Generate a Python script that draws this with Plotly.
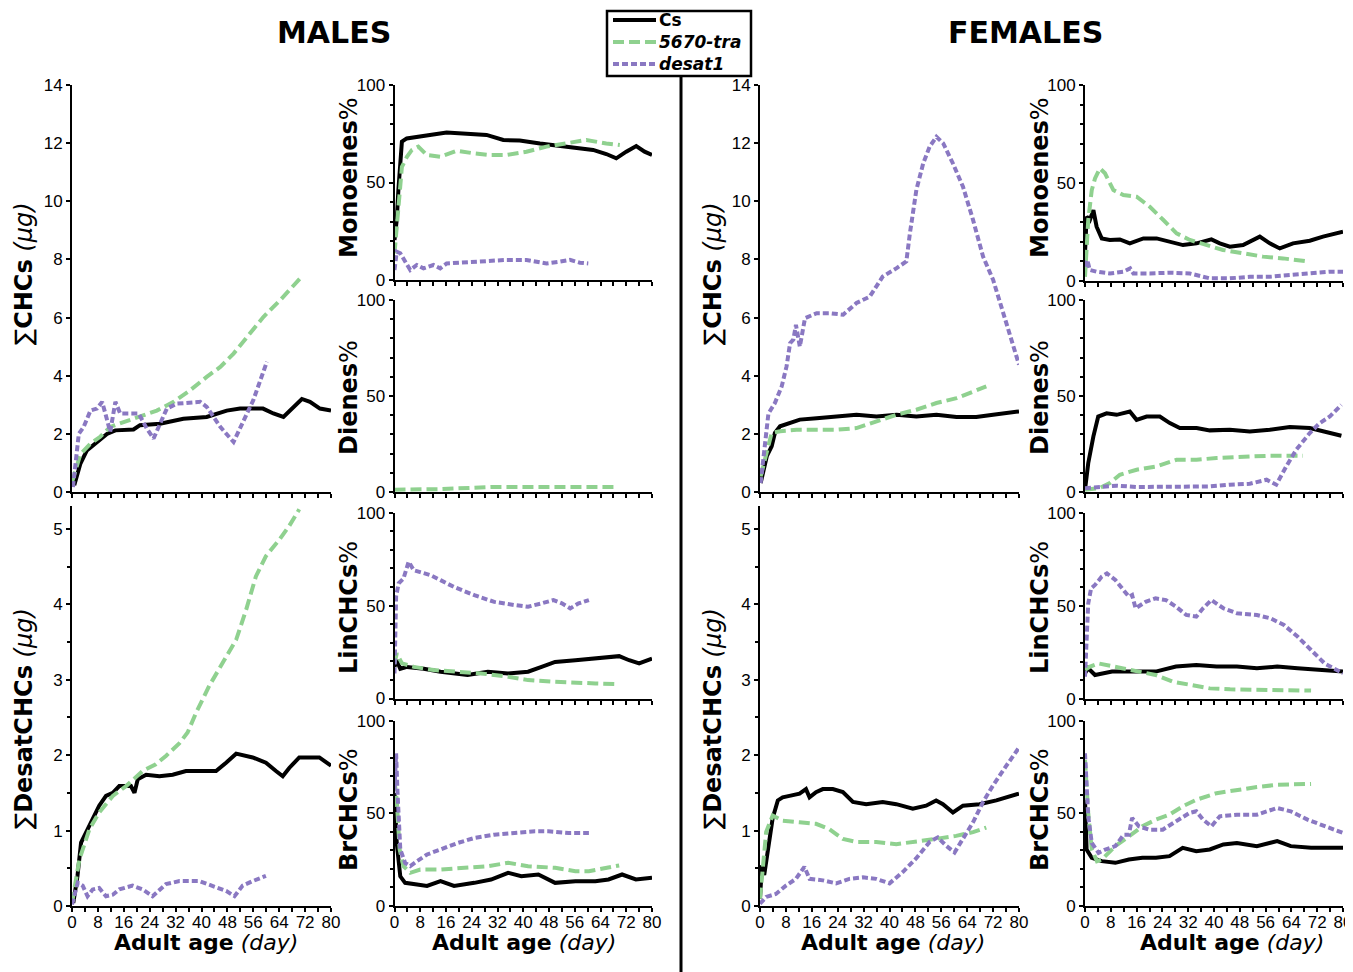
import plotly.graph_objects as go

# ---------------- DATA (day, value) ----------------
# MALES  ΣCHCs (µg)
M_CHC_CS = [(0.7,0.23),(2.6,0.98),(4.6,1.43),(8.7,1.78),(10.8,2.0),(13.4,2.12),(19,2.15),(21,2.3),(27.2,2.35),(34.4,2.52),(41.6,2.58),(47.8,2.8),(51.9,2.87),(59,2.87),(62.2,2.7),(65.3,2.58),(67.4,2.8),(71,3.2),(73.5,3.1),(76.6,2.87),(80,2.8)]
M_CHC_TRA = [(0,0.34),(2.6,1.3),(5.7,1.66),(8.7,1.9),(11.8,2.24),(15.9,2.4),(21,2.58),(26.2,2.8),(31.4,3.1),(36.5,3.5),(41.6,3.96),(45.8,4.3),(49.9,4.76),(54,5.34),(59.1,6.02),(64.3,6.6),(70.4,7.34)]
M_CHC_DES = [(0.3,0.17),(2.1,2.0),(3.6,2.24),(5.7,2.8),(7.7,2.87),(9.3,3.1),(10.3,2.7),(11.8,2.07),(13.4,3.1),(14.9,2.7),(17,2.7),(20.6,2.7),(23.1,2.18),(25.2,1.84),(27.2,2.35),(29.3,2.87),(32.4,3.04),(39.6,3.1),(41.6,2.93),(45.8,2.24),(49.9,1.72),(53,2.47),(56,3.16),(60.2,4.48)]
# MALES  ΣDesatCHCs (µg)
M_DES_CS = [(0.4,0.04),(1.7,0.4),(2.8,0.84),(4.3,0.97),(6.4,1.15),(8.4,1.33),(10.5,1.46),(12.6,1.5),(14.6,1.59),(18.2,1.59),(19.3,1.5),(20.3,1.68),(22.9,1.74),(27,1.72),(31.1,1.74),(35.2,1.79),(39.3,1.79),(44.5,1.79),(47.6,1.9),(50.7,2.02),(55.8,1.97),(59.9,1.9),(63,1.79),(65.1,1.72),(67.1,1.83),(70.2,1.97),(76.4,1.97),(80,1.86)]
M_DES_TRA = [(0,0.04),(2.3,0.62),(5.4,1.02),(8.4,1.24),(12.6,1.46),(16.7,1.59),(21.8,1.79),(25.9,1.88),(29,1.99),(33.2,2.16),(35.7,2.3),(38.3,2.56),(42.4,2.92),(46.5,3.22),(50.7,3.53),(53.8,3.93),(56.8,4.37),(59.9,4.64),(64.1,4.86),(67.1,5.04),(70.2,5.26)]
M_DES_DES = [(0,0.02),(1.8,0.31),(3.3,0.27),(4.8,0.13),(6.4,0.22),(8.4,0.24),(10.5,0.13),(12.6,0.15),(14.6,0.22),(18.7,0.27),(21.8,0.22),(24.9,0.13),(29,0.29),(33.2,0.33),(39.3,0.33),(43.5,0.27),(47.6,0.2),(50.2,0.13),(52.7,0.27),(55.8,0.33),(59.9,0.4)]
# MALES  Monoenes %
M_MON_CS = [(0,20.5),(0.7,30.8),(1.2,46),(1.8,60),(2.3,71),(3.8,72.6),(6.9,73.5),(11,74.4),(16.2,75.6),(24.5,74.9),(28.6,74.4),(33.8,71.8),(38.9,71.5),(45.2,70),(53.4,68.4),(61.7,66.7),(65.8,64.6),(68.9,62.4),(72,65.8),(75.1,68.7),(77.7,65.8),(80,64.1)]
M_MON_TRA = [(0,13.7),(0.7,25.6),(1.6,46),(2.3,58),(3.8,63),(5.4,66.7),(7.4,68.4),(10,64.1),(14.2,63.2),(19.3,66.3),(24.5,65),(29.7,64.1),(34.8,64.1),(41,65.8),(47.2,68.4),(53.4,70),(59.6,71.8),(65.8,70),(70,69.2)]
M_MON_DES = [(0,5.1),(0.7,14.5),(1.8,13.7),(3.3,9.4),(4.9,5.1),(6.9,7.7),(9,6),(12.1,7.7),(14.2,6),(16.2,8.5),(24.5,9.4),(34.8,10.3),(41,10.3),(47.2,8.5),(51.4,9.4),(54.5,10.3),(57.6,8.9),(60.2,8.5)]
# MALES  Dienes %
M_DIE_TRA = [(0,1.2),(14,1.5),(30,2.6),(45,2.6),(69,2.6)]
# MALES  LinCHCs %
M_LIN_CS = [(0,17),(0.7,20.6),(1.8,16),(3.9,17),(9.1,16),(14.3,14.4),(22.7,12.6),(29,14.4),(35.3,13.5),(41.5,14.4),(45.7,17),(49.9,19.7),(56.2,20.6),(62.4,21.5),(69.8,22.8),(72.9,20.6),(76,18.9),(80,21.5)]
M_LIN_TRA = [(0,18.9),(0.7,24.2),(2.3,18.9),(6,17),(12.2,15.3),(18.5,14.4),(26.9,13.5),(35.3,11.7),(41.5,9.9),(49.9,9),(56.2,8.4),(62.4,8.1),(69.8,7.7)]
M_LIN_DES = [(0,13.5),(0.2,35),(0.5,55),(1.3,62),(2.8,64.6),(4.4,73.6),(6,69),(8,68),(11.2,66.4),(14.3,63.7),(18.5,60),(24.8,55.6),(31,52),(37.3,50.3),(41.5,49.4),(45.7,51.2),(49.4,53),(52,51.2),(54.6,48.5),(57.2,51.2),(60.4,53)]
# MALES  BrCHCs %
M_BR_CS = [(0,61),(0.7,34),(1.8,16),(3.3,12.5),(7,11.6),(10.1,10.8),(14.3,13.4),(18.5,10.8),(24.8,12.5),(30,14.3),(35.3,17.9),(39.4,16.1),(44.7,17),(49.9,12.5),(56.2,13.4),(62.4,13.4),(66.5,14.3),(70.7,17),(75,14.3),(80,15.2)]
M_BR_TRA = [(0,68),(0.7,57),(1.6,30.5),(2.8,21.5),(4.9,17.9),(8,19.7),(14.3,19.7),(22.7,20.6),(29,21.5),(35.3,23.3),(41.5,21.5),(49.9,20.6),(56.2,18.8),(60.4,18.8),(65.6,20.6),(69.8,21.9)]
M_BR_DES = [(0,62.7),(0.5,82.4),(0.9,62.7),(1.8,30.5),(3.3,23.3),(4.9,21.5),(7,24.2),(10.1,27.8),(14.3,30.5),(19.6,34),(24.8,36.7),(31,38.5),(37.3,39.4),(43.6,40.3),(47.8,40.3),(54.1,39.4),(60.4,39.4)]

# FEMALES ΣCHCs (µg)
F_CHC_CS = [(0.2,0.31),(2.1,1.23),(3.6,1.57),(4.6,2.03),(6.2,2.26),(9.3,2.37),(12.3,2.49),(17.5,2.54),(23.7,2.6),(29.8,2.66),(36,2.6),(42.2,2.66),(48.3,2.6),(54.5,2.66),(60.7,2.58),(66.8,2.58),(72,2.66),(76.1,2.72),(80,2.77)]
F_CHC_TRA = [(0.2,0.54),(2.1,1.45),(3.6,2.03),(6.2,2.09),(11.3,2.14),(17.5,2.14),(23.7,2.14),(29.8,2.2),(36,2.43),(42.2,2.66),(48.3,2.83),(54.5,3.06),(60.7,3.23),(65.8,3.46),(69.9,3.63)]
F_CHC_DES = [(0.2,0.31),(1.5,1.57),(2.6,2.7),(4.6,3.06),(6.7,3.63),(8.2,4.32),(9.3,5.12),(10.3,5.24),(11.1,5.75),(12.3,5.0),(13.9,5.98),(17.5,6.15),(21.6,6.15),(25.7,6.1),(29.8,6.5),(33.9,6.72),(37.9,7.41),(42.2,7.7),(45.2,7.93),(46.3,8.9),(48.3,10.39),(50.4,11.3),(52.4,11.88),(54.5,12.22),(56.6,11.99),(59.6,11.3),(62.7,10.5),(65.8,9.36),(68.9,8.1),(72,7.3),(75.1,6.15),(78.1,5.12),(80,4.38)]
# FEMALES ΣDesatCHCs (µg)
F_DES_CS = [(0,0.1),(0.6,0.54),(1.3,0.41),(2.4,0.76),(3.9,1.16),(5.5,1.4),(7,1.44),(9.1,1.46),(12.2,1.49),(14.2,1.55),(15.3,1.44),(17.3,1.51),(19.4,1.55),(22.5,1.55),(25.6,1.51),(28.7,1.38),(32.8,1.35),(37.9,1.38),(42.1,1.35),(47.2,1.29),(51.3,1.33),(54.4,1.4),(56.5,1.35),(59.6,1.24),(62.7,1.33),(67.8,1.35),(73,1.4),(80,1.49)]
F_DES_TRA = [(0,0.1),(0.8,0.54),(1.9,0.98),(3.9,1.2),(7,1.13),(12.2,1.11),(17.3,1.09),(21.4,1.02),(25.6,0.89),(29.7,0.85),(35.9,0.85),(42.1,0.82),(48.2,0.85),(54.4,0.89),(60.6,0.93),(65.8,0.98),(69.9,1.04)]
F_DES_DES = [(0,0.03),(1.9,0.12),(4.9,0.16),(8,0.27),(11.1,0.36),(13.7,0.52),(15.3,0.36),(19.4,0.34),(23.5,0.3),(27.6,0.36),(31.8,0.38),(35.9,0.36),(40,0.3),(44.1,0.45),(48.2,0.63),(52.4,0.85),(54.9,0.91),(57.5,0.8),(60.1,0.71),(62.7,0.89),(65.8,1.11),(68.9,1.38),(72,1.6),(76.1,1.86),(80,2.1)]
# FEMALES Monoenes %
F_MON_CS = [(0,14),(0.5,32.7),(1.5,31),(2.6,36),(3.6,27.6),(5.2,21.6),(7.7,20.8),(10.8,21.1),(13.9,19.1),(18.1,21.6),(22.2,21.6),(26.3,19.9),(30.4,18.2),(34.6,19.1),(39.2,21.1),(41.8,19.1),(44.9,17.4),(49,18.2),(54.2,22.5),(57.3,19.1),(60.4,16.5),(64.5,19.1),(69.7,20.4),(73.8,22.5),(76.9,23.9),(80,25)]
F_MON_TRA = [(0,2),(1,31),(2.1,46.3),(3.1,52.3),(4.6,57.4),(6.2,54.9),(8.8,46.3),(11.9,43.8),(16,42.9),(20.1,37.8),(24.3,31),(28.4,24.2),(32.5,20.8),(37.7,18.2),(42.8,15.7),(49,14),(55.2,12.3),(61.4,11.4),(69.7,9.7)]
F_MON_DES = [(0,7.2),(0.7,10.6),(1.5,5.5),(3.6,4.6),(7.7,3.7),(11.9,4.6),(14,6.3),(15,3.7),(20.1,3.7),(26.3,4.1),(32.5,3.7),(38.7,1.2),(44.9,1.2),(51.1,2),(57.3,2),(63.5,2.9),(69.7,3.7),(75.9,4.6),(80,4.6)]
# FEMALES Dienes %
F_DIE_CS = [(0,1.2),(1,15),(2.6,29),(4.1,39.3),(6.7,41),(9.8,40.2),(13.9,41.9),(16,37.6),(19.1,39.3),(23.2,39.3),(26.3,35.9),(29.4,33.3),(34.6,33.3),(38.7,32.1),(44.9,32.4),(51.1,31.5),(57.3,32.4),(63.5,33.8),(69.7,33.3),(73.8,31.5),(79.5,29.3)]
F_DIE_TRA = [(0,1.2),(4.6,2.1),(7.7,4.7),(10.8,9),(16,11.6),(22.2,13.3),(28.4,16.8),(34.6,16.8),(40.8,17.7),(49,18.5),(57.3,18.9),(67.6,18.9)]
F_DIE_DES = [(0,2),(3.6,2.6),(9.8,3.3),(16,2.6),(24.3,2.6),(32.5,2.6),(38.7,2.9),(44.9,3.8),(51.1,4.3),(56.3,6.4),(59.3,3.8),(62.4,13.3),(65.5,22),(69.7,30.7),(72.8,35.9),(75.9,39.3),(79.5,45.4)]
# FEMALES LinCHCs %
F_LIN_CS = [(0,13.8),(1,16.5),(3.1,12.9),(5.2,13.8),(8.4,14.7),(11.5,14.7),(16.7,14.7),(21.9,14.7),(28.2,17.4),(34.5,18.2),(40.8,17.4),(47.1,17.4),(53.3,16.5),(59.6,17.4),(65.9,16.5),(72.2,15.6),(80,14.7)]
F_LIN_TRA = [(0,15.6),(1.6,17.4),(4.2,19.1),(7.3,18.2),(11.5,16.5),(16.7,14.7),(21.9,12.9),(27.2,9.3),(32.4,7.5),(38.7,5.7),(45,5.2),(53.3,4.8),(61.7,4.5),(70.1,4.5)]
F_LIN_DES = [(0,12),(0.5,35.2),(1,51.3),(1.9,59.4),(3.1,61.2),(5.2,65.7),(6.8,67.4),(9.4,63.9),(12.6,56.7),(13.6,54.9),(14.6,55.8),(15.7,48.7),(18.8,52.2),(21.9,54),(25.1,53.1),(28.2,49.6),(31.4,45.1),(34.5,44.2),(36.6,48.7),(39.2,53.1),(42.9,48.7),(47.1,46),(53.3,45.1),(57.5,43.3),(61.7,39.7),(65.9,33.5),(70.1,26.3),(74.3,19.1),(80,13.8)]
# FEMALES BrCHCs %
F_BR_CS = [(0,57.3),(0.5,30.5),(2.1,26),(5.2,24.2),(9.4,23.3),(13.6,25.1),(17.8,26),(22,26),(26.2,26.9),(30.3,31.4),(34.5,29.6),(38.7,30.5),(42.9,33.2),(47.1,34),(53.3,32.3),(59.6,35),(63.8,32.3),(70.1,31.4),(80,31.4)]
F_BR_TRA = [(0,78.9),(1,50.2),(2.1,30.5),(3.7,24.2),(5.2,25.1),(9.4,32.3),(13.6,37.6),(17.8,43),(22,46.6),(26.2,49.3),(30.3,53.8),(34.5,57.3),(40.8,60.9),(47.1,62.7),(53.3,64.2),(59.6,65.4),(65.9,65.9),(70.1,65.9)]
F_BR_DES = [(0,82.4),(0.2,75.3),(1,48.4),(2.1,34),(4.2,28.7),(6.3,30.5),(9.4,32.3),(12,38.5),(13.6,38.5),(14.6,47.5),(16.7,43),(19.9,41.2),(24.1,41.2),(28.2,45.7),(32.4,50.2),(34.5,51.1),(36.6,46.6),(39.2,43),(41.8,48.4),(47.1,49.3),(53.3,49.3),(59.6,52.9),(63.8,51.1),(69,46.6),(74.3,43),(80,39.4)]

GENOTYPES = ["Cs", "5670-tra", "desat1"]
LEGEND_NAMES = ["<b>Cs</b>", "<b><i>5670-tra</i></b>", "<b><i>desat1</i></b>"]
X_TICKS = [0, 8, 16, 24, 32, 40, 48, 56, 64, 72, 80]

# ---------------- STYLE / LAYOUT ----------------
# the page body adds an 8px offset; the figure is sized so that it ends at the window edge
OX, OY = 8, 8
W, H = 1345, 964
TICK_FONT = "Liberation Sans"
TEXT_FONT = "DejaVu Sans"
STYLES = {
    "Cs": dict(color="black", width=4, dash="solid"),
    "5670-tra": dict(color="#8fd18f", width=4, dash="11px,5px"),
    "desat1": dict(color="#8a78c2", width=4, dash="6px,3px"),
}

def fx(px):
    return (px - OX) / W

def fy(py):
    return 1 - (py - OY) / H

def px_x(a, b):
    return [fx(a), fx(b)]

def px_y(top, bottom):
    return [fy(bottom), fy(top)]

# key, series, x-domain px, y-domain px, y-range, y-major, y-minor, show x labels
panels = [
    ("m_chc", [M_CHC_CS, M_CHC_TRA, M_CHC_DES], (72, 331), (85, 492), [0, 14], 2, None, False),
    ("m_des", [M_DES_CS, M_DES_TRA, M_DES_DES], (72, 331), (506.3, 906), [0, 5.3], 1, 0.5, True),
    ("m_mon", [M_MON_CS, M_MON_TRA, M_MON_DES], (394.5, 652), (85, 280), [0, 100], 50, 10, False),
    ("m_die", [None, M_DIE_TRA, None], (394.5, 652), (300, 492), [0, 100], 50, 10, False),
    ("m_lin", [M_LIN_CS, M_LIN_TRA, M_LIN_DES], (394.5, 652), (512.7, 698.5), [0, 100], 50, 10, False),
    ("m_br", [M_BR_CS, M_BR_TRA, M_BR_DES], (394.5, 652), (720.7, 906), [0, 100], 50, 10, True),
    ("f_chc", [F_CHC_CS, F_CHC_TRA, F_CHC_DES], (760, 1019), (85, 492), [0, 14], 2, None, False),
    ("f_des", [F_DES_CS, F_DES_TRA, F_DES_DES], (760, 1019), (506.3, 906), [0, 5.3], 1, 0.5, True),
    ("f_mon", [F_MON_CS, F_MON_TRA, F_MON_DES], (1085, 1343), (85, 280.7), [0, 100], 50, 10, False),
    ("f_die", [F_DIE_CS, F_DIE_TRA, F_DIE_DES], (1085, 1343), (300, 492), [0, 100], 50, 10, False),
    ("f_lin", [F_LIN_CS, F_LIN_TRA, F_LIN_DES], (1085, 1343), (512.7, 699), [0, 100], 50, 10, False),
    ("f_br", [F_BR_CS, F_BR_TRA, F_BR_DES], (1085, 1343), (720.7, 906), [0, 100], 50, 10, True),
]

fig = go.Figure()
layout = {}
for i, (key, series, xd, yd, yr, ymaj, ymin, bottom) in enumerate(panels):
    n = i + 1
    xa = "x" if n == 1 else f"x{n}"
    ya = "y" if n == 1 else f"y{n}"
    for g, data in zip(GENOTYPES, series):
        if data is None:
            continue
        xs, ys = zip(*data)
        fig.add_trace(go.Scatter(
            x=list(xs), y=list(ys), mode="lines", name=g,
            line=STYLES[g], xaxis=xa, yaxis=ya, showlegend=False,
        ))
    axis_common = dict(showline=True, linecolor="black", linewidth=2, ticks="outside",
                       tickcolor="black", tickwidth=1.5, ticklen=4, showgrid=False,
                       zeroline=False, automargin=False,
                       tickfont=dict(family=TICK_FONT, size=17, color="black"))
    layout["xaxis" if n == 1 else f"xaxis{n}"] = dict(
        domain=px_x(*xd), range=[0, 80], anchor=ya, tickmode="array",
        tickvals=X_TICKS, showticklabels=bottom, ticklabelstandoff=-4,
        minor=dict(dtick=4, tick0=0, ticks="outside", ticklen=4, tickcolor="black", tickwidth=1.5),
        **axis_common)
    ydict = dict(domain=px_y(*yd), range=yr, anchor=xa, dtick=ymaj, tick0=0, **axis_common)
    if ymin:
        ydict["minor"] = dict(dtick=ymin, tick0=0, ticks="outside", ticklen=3, tickcolor="black", tickwidth=1.5)
    layout["yaxis" if n == 1 else f"yaxis{n}"] = ydict

# ---------------- TEXT ----------------
ann = []

def add_text(text, xpx, ypx, size=21, angle=0, xanchor="center", family=TEXT_FONT):
    ann.append(dict(text=text, x=fx(xpx), y=fy(ypx), xref="paper", yref="paper",
                    showarrow=False, textangle=angle, xanchor=xanchor, yanchor="middle",
                    font=dict(family=family, size=size, color="black")))

add_text("<b>MALES</b>", 334, 32, size=30)
add_text("<b>FEMALES</b>", 1025, 32, size=30)

y_titles_left = [("∑<b>CHCs</b> <i>(μg)</i>", 274), ("∑<b>DesatCHCs</b> <i>(μg)</i>", 719)]
y_titles_right = [("<b>Monoenes</b>%", 178), ("<b>Dienes</b>%", 398),
                  ("<b>LinCHCs</b>%", 608), ("<b>BrCHCs</b>%", 810)]
for t, yp in y_titles_left:
    add_text(t, 24, yp, size=24, angle=-90)
    add_text(t, 713, yp, size=24, angle=-90)
for t, yp in y_titles_right:
    add_text(t, 349, yp, size=24, angle=-90)
    add_text(t, 1040, yp, size=24, angle=-90)
for xc in (206, 524, 893, 1232):
    add_text("<b>Adult age</b> <i>(day)</i>", xc, 942, size=22)

# legend box (manual)
LEG_X0, LEG_X1, LEG_Y0, LEG_Y1 = 607, 751, 11, 76
LEG_ROWS = [20, 42, 64]
shapes = [
    dict(type="line", xref="paper", yref="paper", x0=fx(681), x1=fx(681),
         y0=0, y1=fy(LEG_Y1), line=dict(color="black", width=3)),
    dict(type="rect", xref="paper", yref="paper", x0=fx(LEG_X0), x1=fx(LEG_X1),
         y0=fy(LEG_Y1), y1=fy(LEG_Y0), line=dict(color="black", width=2.5),
         fillcolor="white"),
]
for g, lname, yrow in zip(GENOTYPES, LEGEND_NAMES, LEG_ROWS):
    shapes.append(dict(type="line", xref="paper", yref="paper",
                       x0=fx(613), x1=fx(656), y0=fy(yrow), y1=fy(yrow),
                       line=STYLES[g]))
    add_text(lname, 657, yrow, size=17, xanchor="left")

fig.update_layout(
    width=W, height=H, autosize=False,
    margin=dict(l=0, r=0, t=0, b=0, pad=0, autoexpand=False),
    paper_bgcolor="white", plot_bgcolor="white",
    font=dict(family=TICK_FONT, color="black"),
    showlegend=False,
    annotations=ann, shapes=shapes,
    **layout,
)

fig.write_html("out.html")
